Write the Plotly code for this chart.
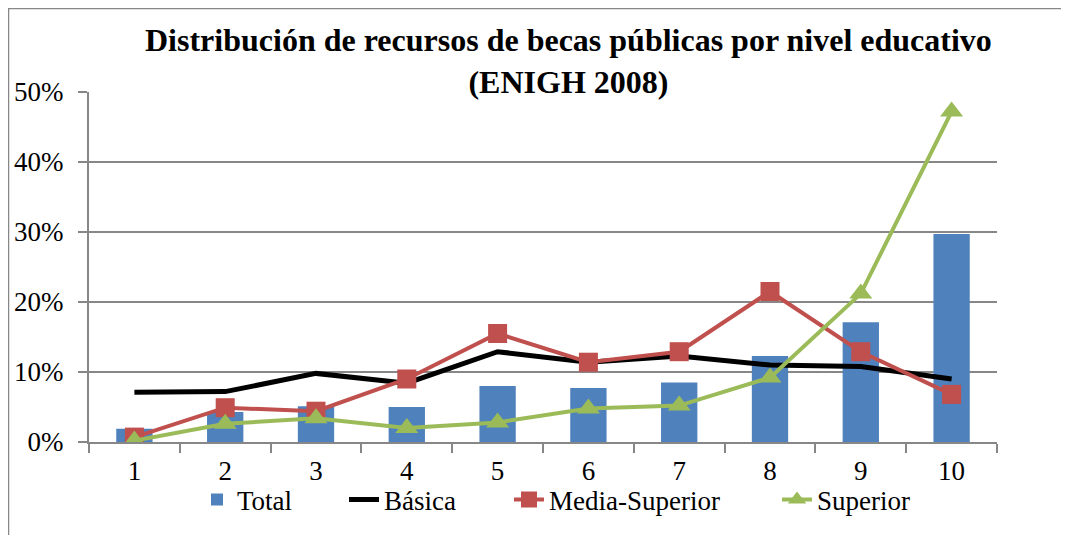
import plotly.graph_objects as go

deciles = ["1", "2", "3", "4", "5", "6", "7", "8", "9", "10"]
total = [0.019, 0.043, 0.051, 0.050, 0.080, 0.077, 0.085, 0.123, 0.171, 0.297]
basica = [0.071, 0.072, 0.098, 0.084, 0.129, 0.114, 0.123, 0.110, 0.108, 0.090]
media_superior = [0.007, 0.049, 0.044, 0.090, 0.155, 0.114, 0.129, 0.215, 0.129, 0.068]
superior = [0.002, 0.026, 0.034, 0.020, 0.028, 0.048, 0.052, 0.092, 0.212, 0.472]

title_line1 = "Distribución de recursos de becas públicas por nivel educativo"
title_line2 = "(ENIGH 2008)"

# the page body adds an 8px offset, so figure coordinates = screen - 8
OFF = 8
W, H = 1069, 535
ML, MT = 89 - OFF, 92 - OFF
PW, PH = 908, 350
MR = W - ML - PW
MB = H - MT - PH


def px_x(p):
    return (p - OFF - ML) / PW


def px_y(p):
    return (MT + PH - (p - OFF)) / PH


FONT = "Liberation Serif"
GRID = "#878787"
FS = 27

fig = go.Figure()
fig.add_trace(go.Bar(x=deciles, y=total, name="Total", marker_color="#4F81BD",
                     marker_line_width=0, legend="legend"))
fig.add_trace(go.Scatter(x=deciles, y=basica, name="Básica", mode="lines",
                         line=dict(color="black", width=5), legend="legend2"))
fig.add_trace(go.Scatter(x=deciles, y=media_superior, name="Media-Superior", mode="lines+markers",
                         line=dict(color="#C0504D", width=4),
                         marker=dict(symbol="square", size=19, color="#C0504D"), legend="legend3"))
fig.add_trace(go.Scatter(x=deciles, y=superior, name="Superior", mode="lines+markers",
                         line=dict(color="#9BBB59", width=4),
                         marker=dict(symbol="triangle-up", size=20, color="#9BBB59"), legend="legend4"))


def legend_at(text_start):
    return dict(orientation="h", x=px_x(text_start - 45), xanchor="left",
                y=px_y(500), yanchor="middle", font=dict(family=FONT, size=FS),
                bgcolor="rgba(0,0,0,0)", borderwidth=0)


fig.update_layout(
    width=W, height=H,
    margin=dict(l=ML, r=MR, t=MT, b=MB, pad=0, autoexpand=False),
    paper_bgcolor="white", plot_bgcolor="white",
    font=dict(family=FONT, size=FS, color="black"),
    bargap=0.6,
    showlegend=True,
    legend=legend_at(242),
    legend2=legend_at(389),
    legend3=legend_at(554),
    legend4=legend_at(822),
    xaxis=dict(type="category", range=[-0.5, 9.5], automargin=False, showgrid=False,
               showline=True, linecolor=GRID, linewidth=2,
               ticks="outside", tickson="boundaries", ticklen=9, tickcolor=GRID, tickwidth=2,
               tickfont=dict(family=FONT, size=FS), ticklabelstandoff=4),
    yaxis=dict(range=[0, 0.5], dtick=0.1, tickformat=".0%", automargin=False, showgrid=True,
               gridcolor=GRID, gridwidth=2, showline=True, linecolor=GRID, linewidth=2,
               ticks="outside", ticklen=9, tickcolor=GRID, tickwidth=2, zeroline=False,
               tickfont=dict(family=FONT, size=FS), ticklabelstandoff=9),
    annotations=[
        dict(text="<b>" + title_line1 + "<br>" + title_line2 + "</b>", xref="paper", yref="paper",
             x=px_x(568), y=px_y(61), xanchor="center", yanchor="middle", showarrow=False,
             align="center", font=dict(family=FONT, size=32, color="black")),
    ],
)

# outer chart frame (left and top edges)
fig.add_shape(type="line", xref="paper", yref="paper", x0=px_x(8), x1=px_x(8),
              y0=px_y(8), y1=px_y(H + 20), line=dict(color=GRID, width=2.5))
fig.add_shape(type="line", xref="paper", yref="paper", x0=px_x(8), x1=px_x(W + 20),
              y0=px_y(8), y1=px_y(8), line=dict(color=GRID, width=2.5))

fig.write_html("out.html")
